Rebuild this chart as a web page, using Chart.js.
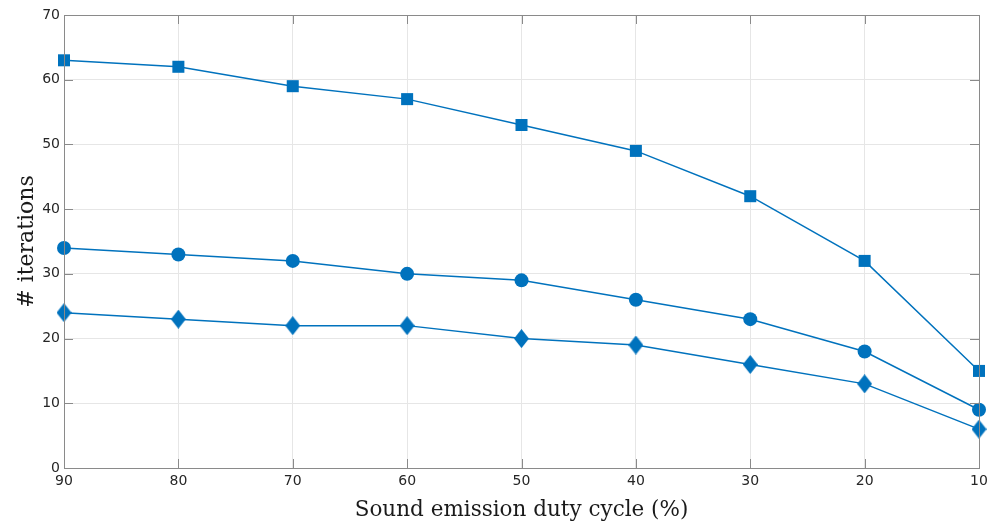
<!DOCTYPE html>
<html>
<head>
<meta charset="utf-8">
<script src="https://cdn.jsdelivr.net/npm/chart.js@4"></script>
<style>
  html, body { margin: 0; padding: 0; background: #fff; }
  #chart { display: block; }
</style>
</head>
<body>
<canvas id="chart" width="995" height="523"></canvas>
<script>
const dutyCycle = [90, 80, 70, 60, 50, 40, 30, 20, 10];
const squareSeries = [63, 62, 59, 57, 53, 49, 42, 32, 15];
const circleSeries = [34, 33, 32, 30, 29, 26, 23, 18, 9];
const diamondSeries = [24, 23, 22, 22, 20, 19, 16, 13, 6];
const xTicks = [90, 80, 70, 60, 50, 40, 30, 20, 10];
const yTicks = [0, 10, 20, 30, 40, 50, 60, 70];

const BLUE = '#0072BD';

// tall diamond marker like matlab's 'd'
function makeDiamond(w, h) {
  const c = document.createElement('canvas');
  c.width = w;
  c.height = h;
  const g = c.getContext('2d');
  g.fillStyle = BLUE;
  g.beginPath();
  g.moveTo(w / 2, 0);
  g.lineTo(w, h / 2);
  g.lineTo(w / 2, h);
  g.lineTo(0, h / 2);
  g.closePath();
  g.fill();
  return c;
}
const diamond = makeDiamond(15, 19);

function toPoints(vals) {
  return vals.map((v, i) => ({ x: dutyCycle[i], y: v }));
}

// box + inward tick marks, matlab style
const boxTicks = {
  id: 'boxTicks',
  afterDraw(chart) {
    const { ctx, chartArea: a, scales } = chart;
    const len = 9;
    ctx.save();
    ctx.strokeStyle = '#8a8a8a';
    ctx.lineWidth = 1;
    ctx.beginPath();
    xTicks.forEach(t => {
      const px = Math.round(scales.x.getPixelForValue(t)) + 0.5;
      ctx.moveTo(px, a.bottom); ctx.lineTo(px, a.bottom - len);
      ctx.moveTo(px, a.top); ctx.lineTo(px, a.top + len);
    });
    yTicks.forEach(t => {
      const py = Math.round(scales.y.getPixelForValue(t)) + 0.5;
      ctx.moveTo(a.left, py); ctx.lineTo(a.left + len, py);
      ctx.moveTo(a.right, py); ctx.lineTo(a.right - len, py);
    });
    ctx.stroke();
    ctx.strokeRect(Math.round(a.left) + 0.5, Math.round(a.top) + 0.5,
      Math.round(a.right - a.left), Math.round(a.bottom - a.top));
    ctx.restore();
  }
};

const ctx = document.getElementById('chart').getContext('2d');
new Chart(ctx, {
  type: 'line',
  data: {
    datasets: [
      {
        data: toPoints(squareSeries),
        borderColor: BLUE,
        backgroundColor: BLUE,
        borderWidth: 1.5,
        pointStyle: 'rect',
        pointRadius: 8.5,
        pointBorderWidth: 0,
      },
      {
        data: toPoints(circleSeries),
        borderColor: BLUE,
        backgroundColor: BLUE,
        borderWidth: 1.5,
        pointStyle: 'circle',
        pointRadius: 7,
        pointBorderWidth: 0,
      },
      {
        data: toPoints(diamondSeries),
        borderColor: BLUE,
        backgroundColor: BLUE,
        borderWidth: 1.5,
        pointStyle: diamond,
        pointRadius: 8,
        pointBorderWidth: 0,
      },
    ],
  },
  options: {
    responsive: false,
    animation: false,
    clip: false,
    layout: { padding: { top: 15, right: 16, left: 14, bottom: 0 } },
    plugins: {
      legend: { display: false },
      tooltip: { enabled: false },
    },
    scales: {
      x: {
        type: 'linear',
        reverse: true,
        min: 10,
        max: 90,
        afterBuildTicks: s => { s.ticks = xTicks.map(v => ({ value: v })); },
        afterFit: s => { s.height = 55; },
        grid: { color: '#e6e6e6', drawTicks: false },
        border: { display: false },
        ticks: {
          padding: 5,
          color: '#262626',
          font: { family: 'DejaVu Sans', size: 14 },
          maxRotation: 0,
        },
        title: {
          display: true,
          text: 'Sound emission duty cycle (%)',
          color: '#1a1a1a',
          font: { family: 'DejaVu Serif', size: 21.5 },
          padding: { top: 3, bottom: 0 },
        },
      },
      y: {
        min: 0,
        max: 70,
        afterBuildTicks: s => { s.ticks = yTicks.map(v => ({ value: v })); },
        afterFit: s => { s.width = 50; },
        grid: { color: '#e6e6e6', drawTicks: false },
        border: { display: false },
        ticks: {
          padding: 4,
          color: '#262626',
          font: { family: 'DejaVu Sans', size: 14 },
        },
        title: {
          display: true,
          text: '# iterations',
          color: '#1a1a1a',
          font: { family: 'DejaVu Serif', size: 22 },
          padding: { top: 0, bottom: 2 },
        },
      },
    },
  },
  plugins: [boxTicks],
});
</script>
</body>
</html>
